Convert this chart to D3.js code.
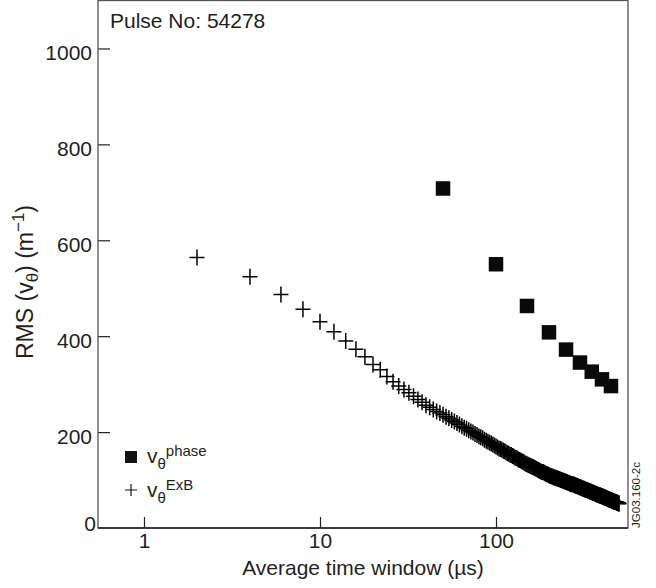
<!DOCTYPE html>
<html><head><meta charset="utf-8">
<script src="https://cdn.jsdelivr.net/npm/d3@7"></script>
<style>
body{margin:0;background:#fff}
text{font-family:"Liberation Sans",Arial,Helvetica,sans-serif;fill:#231f20}
</style>
</head><body><svg id="c" width="656" height="588"></svg>
<script>
// ---- data ----
const phaseWindow = [50,100,150,200,250,300,350,400,450];
const phaseRMS    = [708,550,463,408,372,345,326,310,296];

const exbWindow = [2,4,6,8,10,12,14,16,18,20,22,24,26,28,30,32,34,36,38,40,42,44,46,48,50,
52,54,56,58,60,62,64,66,68,70,72,74,76,78,80,82,84,86,88,90,92,94,96,98,100,
102,104,106,108,110,112,114,116,118,120,122,124,126,128,130,132,134,136,138,140,142,144,146,148,150,
152,154,156,158,160,162,164,166,168,170,172,174,176,178,180,182,184,186,188,190,192,194,196,198,200,
202,204,206,208,210,212,214,216,218,220,222,224,226,228,230,232,234,236,238,240,242,244,246,248,250,
252,254,256,258,260,262,264,266,268,270,272,274,276,278,280,282,284,286,288,290,292,294,296,298,300,
302,304,306,308,310,312,314,316,318,320,322,324,326,328,330,332,334,336,338,340,342,344,346,348,350,
352,354,356,358,360,362,364,366,368,370,372,374,376,378,380,382,384,386,388,390,392,394,396,398,400,
402,404,406,408,410,412,414,416,418,420,422,424,426,428,430,432,434,436,438,440,442,444,446,448,450,
452,454,456,458,460,462,464,466,468,470,472,474,476,478,480,482,484,486,488,490,492,494,496,498,500];
const exbRMS = [564,524,487,456,430,409,390,373,357,341,330,316,305,296,289,282,275,268,262,256,252,247,243,240,236,
232,229,225,222,219,216,212,209,207,204,201,199,196,194,191,189,187,184,182,180,178,176,174,172,170,
168,166,165,163,161,160,158,156,155,153,152,150,149,147,146,145,143,142,141,139,138,137,135,134,133,
132,131,130,129,128,127,126,125,124,123,122,121,120,119,118,117,117,116,115,114,113,112,112,111,110,
109,109,108,108,107,106,106,105,105,104,104,103,102,102,101,101,100,100,99,99,98,98,97,97,96,
96,95,95,94,94,93,93,92,92,91,91,91,90,90,89,89,88,88,88,87,87,86,86,85,85,
85,84,84,83,83,82,82,82,81,81,80,80,79,79,79,78,78,77,77,77,76,76,76,75,75,
74,74,74,73,73,73,72,72,71,71,71,70,70,70,69,69,69,68,68,68,67,67,67,66,66,
66,65,65,65,64,64,64,63,63,63,62,62,62,61,61,61,60,60,60,60,59,59,59,58,58,
58,57,57,57,57,56,56,56,55,55,55,55,54,54,54,53,53,53,53,52,52,52,51,51,51];

const xTicks = [1,10,100];
const yTicks = [0,200,400,600,800,1000];

// ---- layout ----
const svg = d3.select("#c");
const L = 98, R = 628, T = 0.5, B = 528;
const x = d3.scaleLog().domain([0.5479, 562.3]).range([L, R]);
const y = d3.scaleLinear().domain([0, 1100]).range([B, T]);
const FS = 21;

// y axis
const gy = svg.append("g").attr("transform", `translate(${L},0)`)
  .call(d3.axisLeft(y).tickValues(yTicks).tickFormat(d3.format("d"))
    .tickSizeInner(-12).tickSizeOuter(0).tickPadding(6));
gy.select(".domain").remove();
gy.selectAll(".tick line").attr("stroke", "#231f20").attr("stroke-width", 1.2);
gy.selectAll(".tick text").attr("font-size", FS).attr("dy", "0.52em").style("font-family", null);
gy.selectAll(".tick").filter(d => d === 0).select("line").remove();
gy.selectAll(".tick").filter(d => d === 0).select("text").attr("x", -2).attr("dy", "0.1em");

// x axis
const gx = svg.append("g").attr("transform", `translate(0,${B})`)
  .call(d3.axisBottom(x).tickValues(xTicks).tickFormat(d3.format("d"))
    .tickSizeInner(-11).tickSizeOuter(0).tickPadding(5));
gx.select(".domain").remove();
gx.selectAll(".tick line").attr("stroke", "#231f20").attr("stroke-width", 1.2);
gx.selectAll(".tick text").attr("font-size", FS).style("font-family", null);

// frame
svg.append("rect").attr("x", L).attr("y", T).attr("width", R - L).attr("height", B - T)
  .attr("fill", "none").attr("stroke", "#555").attr("stroke-width", 1.3);
svg.append("line").attr("x1", L).attr("x2", R).attr("y1", B).attr("y2", B)
  .attr("stroke", "#231f20").attr("stroke-width", 1.6);

// ExB crosses
const cross = "M-7.5,0H7.5M0,-8V8";
svg.append("g").selectAll("path").data(exbWindow).join("path")
  .attr("transform", (d, i) => `translate(${x(d)},${y(exbRMS[i])})`)
  .attr("d", cross).attr("fill", "none").attr("stroke", "#000").attr("stroke-width", 1.5);

// phase squares
const S = 14.5;
svg.append("g").selectAll("rect").data(phaseWindow).join("rect")
  .attr("x", d => x(d) - S / 2)
  .attr("y", (d, i) => y(phaseRMS[i]) - S / 2)
  .attr("width", S).attr("height", S).attr("fill", "#0a0a0a");

// labels
svg.append("text").attr("x", 110).attr("y", 28).attr("font-size", FS).text("Pulse No: 54278");

svg.append("text").attr("x", (L + R) / 2).attr("y", 575).attr("text-anchor", "middle")
  .attr("font-size", FS).text("Average time window (\u00b5s)");

const yl = svg.append("text").attr("transform", "translate(33,282) rotate(-90)")
  .attr("text-anchor", "middle").attr("font-size", 23);
yl.append("tspan").text("RMS (v");
yl.append("tspan").attr("font-size", 17).attr("dy", 5).text("\u03b8");
yl.append("tspan").attr("dy", -5).text(") (m");
yl.append("tspan").attr("font-size", 17).attr("dy", -9).text("\u22121");
yl.append("tspan").attr("dy", 9).text(")");

svg.append("text").attr("transform", "translate(640,495) rotate(-90)")
  .attr("text-anchor", "middle").attr("font-size", 11.5).text("JG03.160-2c");

// legend
svg.append("rect").attr("x", 125).attr("y", 451).attr("width", 12).attr("height", 12).attr("fill", "#111");
svg.append("path").attr("transform", "translate(131,490)").attr("d", "M-6,0H6M0,-6V6")
  .attr("fill", "none").attr("stroke", "#111").attr("stroke-width", 1.2);

function legText(yb, sup) {
  const t = svg.append("text").attr("x", 147).attr("y", yb).attr("font-size", FS);
  t.append("tspan").text("v");
  t.append("tspan").attr("font-size", 15).attr("dy", 6).text("\u03b8");
  t.append("tspan").attr("font-size", 15).attr("dy", -13).text(sup);
}
legText(463, "phase");
legText(497, "ExB");
</script>
</body></html>
